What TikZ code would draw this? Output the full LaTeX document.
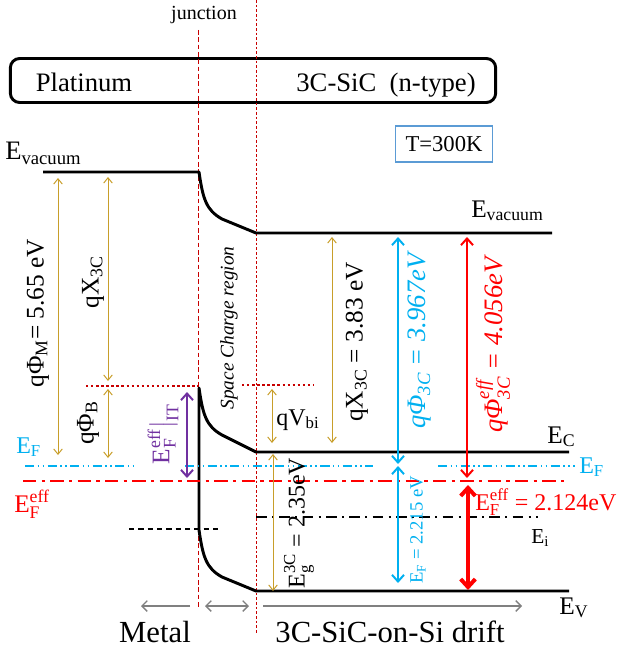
\documentclass[tikz,border=0pt]{standalone}
\usepackage{amsmath}
\usepackage{fontspec}
\setmainfont{Liberation Serif}
\usetikzlibrary{arrows.meta}

\definecolor{gold}{RGB}{200,158,42}
\definecolor{skyblue}{RGB}{0,176,240}
\definecolor{itpurple}{RGB}{112,48,160}
\definecolor{boxblue}{RGB}{91,155,213}
\definecolor{darkred}{RGB}{200,0,0}
\newcommand{\sz}[1]{\fontsize{#1}{#1}\selectfont}

\begin{document}
\begin{tikzpicture}[x=0.75pt, y=-0.75pt,
    >={Straight Barb[length=4pt, width=6.5pt]},
    band/.style={line width=2.2pt, line join=round},
    wall/.style={draw=darkred, line width=0.6pt},
    barrier/.style={draw=darkred, line width=1.8pt, dash pattern=on 1.8pt off 2pt},
    goldarr/.style={<->, draw=gold, line width=0.75pt},
    thickarr/.style={<->, line width=1.5pt, >={Straight Barb[length=5pt, width=9pt]}},
    region/.style={draw=gray, line width=1pt, >={Straight Barb[length=4pt, width=8pt]}},
    efline/.style={draw=skyblue, line width=1.1pt, dash pattern=on 7pt off 2.5pt on 1.2pt off 2.5pt on 1.2pt off 2.5pt},
    effline/.style={draw=red, line width=2.2pt, dash pattern=on 10pt off 4pt on 2.5pt off 4pt},
    lbl/.style={anchor=base west, inner sep=0pt},
    side/.style={rotate=90, inner sep=0pt}]
  \useasboundingbox (0,0) rectangle (622,649);

  % materials
  \node[draw, line width=2.2pt, rounded corners=7pt, minimum width=364pt, minimum height=33pt] (mat) at (253,80.5) {};
  \node[anchor=base] (pt) at (84,92) {\sz{20}Platinum};
  \node[anchor=base] (sic) at (386,92) {\sz{20}3C-SiC\ \ (n-type)};
  \node[draw=boxblue, line width=0.8pt, minimum width=73pt, minimum height=27pt] (tk) at (444,144) {\sz{17}T=300K};

  % junction and depletion edge
  \coordinate (jt) at (198,30);  \coordinate (jb) at (198,608);
  \coordinate (st) at (256,0);   \coordinate (sb) at (256,633);
  \draw[wall, dash pattern=on 3.5pt off 2pt] (jt) -- (jb);
  \draw[wall, dash pattern=on 2pt off 1.5pt] (st) -- (sb);
  \node[anchor=base] (jn) at (204,20) {\sz{15}junction};

  % bands
  \coordinate (v0) at (43,172);  \coordinate (v1) at (199,172);
  \coordinate (v2) at (256,233); \coordinate (v3) at (552,233);
  \coordinate (c1) at (199,388); \coordinate (c2) at (256,452); \coordinate (c3) at (569,452);
  \coordinate (e1) at (199,530); \coordinate (e2) at (256,591); \coordinate (e3) at (569,591);
  \draw[band] (v0) -- (v1) .. controls (203,199) and (206,210) .. (222,219) -- (v2) -- (v3);
  \draw[band] (c3) -- (c2) -- (222,435) .. controls (206,426) and (203,415) .. (c1)
    -- (e1) .. controls (203,557) and (206,568) .. (222,577) -- (e2) -- (e3);

  % levels
  \draw[barrier] (86,386) -- (198,386);
  \draw[barrier] (242,385) -- (314,385);
  \draw[efline] (25,466) -- (133,466) (185,466) -- (373,466) (438,466) -- (575,466);
  \draw[effline] (23,481) -- (568,481);
  \draw[line width=0.9pt, dash pattern=on 8pt off 4pt on 1.5pt off 4pt] (256,517) -- (538,517);
  \draw[line width=0.8pt, dash pattern=on 4pt off 3pt] (129,529) -- (220,529);

  % gaps
  \draw[goldarr] (58,178) -- (58,455);
  \draw[goldarr] (108,177) -- (108,381);
  \draw[goldarr] (108,389) -- (108,458);
  \draw[goldarr] (272,389) -- (272,443);
  \draw[goldarr] (332,237) -- (332,443);
  \draw[goldarr] (273,454) -- (273,591);
  \draw[thickarr, draw=itpurple] (187,392) -- (187,478);
  \draw[thickarr, draw=skyblue] (398,237) -- (398,464);
  \draw[thickarr, draw=skyblue] (398,466) -- (398,583);
  \draw[thickarr, draw=red] (467,237) -- (467,478);
  \draw[<->, draw=red, line width=3pt, >={Straight Barb[length=6pt, width=11pt]}] (468,485) -- (468,590);

  % regions
  \draw[region, ->] (190,606) -- (141,606);
  \draw[region, <->] (205,606) -- (249,606);
  \draw[region, ->] (263,606) -- (522,606);
  \node[anchor=base] (mtl) at (155,642) {\sz{23}Metal};
  \node[anchor=base] (drf) at (390,642) {\sz{23}3C-SiC-on-Si drift};

  % labels
  \node[lbl] (vl) at (5,160) {\sz{20}E\textsubscript{vacuum}};
  \node[lbl] (vr) at (471,217) {\sz{19}E\textsubscript{vacuum}};
  \node[lbl] (ec) at (547,443) {\sz{19}E\textsubscript{C}};
  \node[lbl] (ev) at (559,614) {\sz{19}E\textsubscript{V}};
  \node[lbl] (ei) at (531,543) {\sz{16}E\textsubscript{i}};
  \node[lbl, text=skyblue] (efr) at (579,473) {\sz{18}E\textsubscript{F}};
  \node[lbl, text=skyblue] (efl) at (16,453) {\sz{18}E\textsubscript{F}};
  \node[lbl, text=red] (effl) at (14,512) {\sz{19}$\text{E}^{\text{eff}}_{\text{F}}$};
  \node[lbl, text=red] (effv) at (475,510) {\sz{18}$\text{E}^{\text{eff}}_{\text{F}}$ = 2.124eV};
  \node[lbl] (vbi) at (276,425) {\sz{18}qV\textsubscript{bi}};
  \node[side] (phim) at (38,313) {\sz{19}qΦ\textsubscript{M}= 5.65 eV};
  \node[side] (chil) at (93,282) {\sz{19}qX\textsubscript{3C}};
  \node[side] (phib) at (88,423) {\sz{19}qΦ\textsubscript{B}};
  \node[side, text=itpurple] (efit) at (163,434) {\sz{19}$\text{E}^{\text{eff}}_{\text{F}}\big|_{\text{IT}}$};
  \node[side] (scr) at (229,328) {\sz{14.5}\itshape Space Charge region};
  \node[side] (chir) at (357,342) {\sz{19}qX\textsubscript{3C} = 3.83 eV};
  \node[side, text=skyblue] (phis) at (420,341) {\sz{20}\itshape qΦ\textsubscript{3C} = 3.967eV};
  \node[side, text=red] (phie) at (493,345) {\sz{20}\itshape $\text{qΦ}^{\text{eff}}_{\text{3C}}$ = 4.056eV};
  \node[side, text=skyblue] (efv) at (418,530) {\sz{14}E\textsubscript{F} = 2.215 eV};
  \node[side] (egap) at (299,523) {\sz{18}$\text{E}^{\text{3C}}_{\text{g}}$ = 2.35eV};
\end{tikzpicture}
\end{document}
